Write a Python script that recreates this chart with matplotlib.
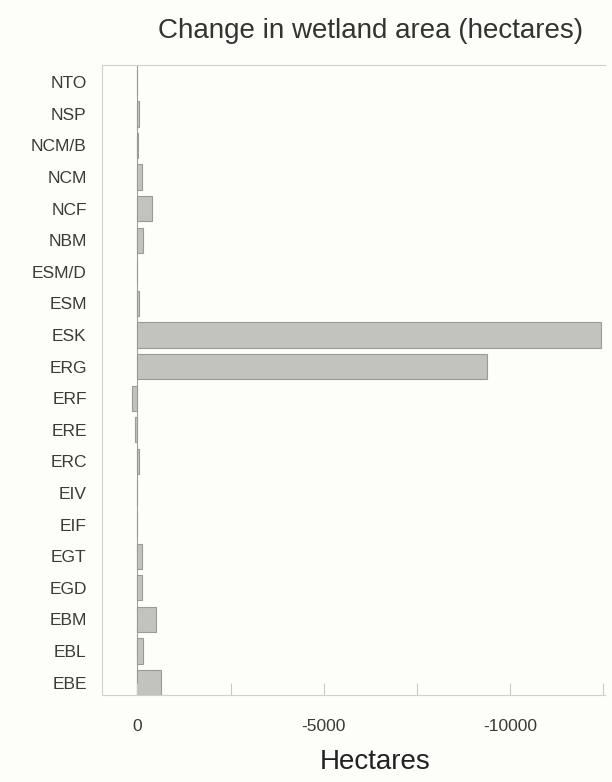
import matplotlib
matplotlib.use("Agg")
import matplotlib.pyplot as plt
import numpy as np

plt.rcParams['font.family'] = ['Liberation Sans', 'DejaVu Sans']
plt.rcParams['axes.unicode_minus'] = False

# categories, top to bottom
categories = ['NTO', 'NSP', 'NCM/B', 'NCM', 'NCF', 'NBM', 'ESM/D', 'ESM', 'ESK', 'ERG',
              'ERF', 'ERE', 'ERC', 'EIV', 'EIF', 'EGT', 'EGD', 'EBM', 'EBL', 'EBE']
# change in hectares (negative = loss)
change = [0, -30, -20, -130, -380, -160, 0, -30, -12430, -9390,
          150, 60, -30, 0, 0, -120, -130, -500, -150, -640]

tick_vals = [0, -2500, -5000, -7500, -10000, -12500]
tick_labels = ['0', '', '-5000', '', '-10000', '']

fig = plt.figure(figsize=(6.12, 7.82), dpi=100, facecolor='#fdfdf9')
ax = fig.add_axes([0.1667, 0.111, 0.822, 0.806])
ax.set_facecolor('#fdfdf9')

y = np.arange(len(categories))
ax.barh(y, change, height=0.8, color='#c2c2be', edgecolor='#9a9a96', linewidth=0.8)
ax.axvline(0, color='#a0a0a0', linewidth=0.8, zorder=0)

ax.set_yticks(y)
ax.set_yticklabels(categories, fontsize=12.5, color='#3a3a3a')
ax.set_ylim(len(categories) - 0.6, -0.55)
ax.tick_params(axis='y', length=0, pad=11)

ax.set_xlim(950, -12550)
ax.set_xticks(tick_vals)
ax.set_xticklabels(tick_labels, fontsize=12.5, color='#3a3a3a')
ax.tick_params(axis='x', direction='in', length=9, color='#c8c8c8', pad=17)

for side in ['top', 'left', 'bottom']:
    ax.spines[side].set_color('#d0d0d0')
    ax.spines[side].set_linewidth(0.8)
ax.spines['right'].set_visible(False)

fig.text(0.613, 0.025, 'Hectares', fontsize=20, color='#222222', ha='center', va='center')
fig.text(0.605, 0.960, 'Change in wetland area (hectares)', fontsize=20,
         color='#333333', ha='center', va='center')

fig.savefig('out.png', dpi=100, facecolor=fig.get_facecolor())
